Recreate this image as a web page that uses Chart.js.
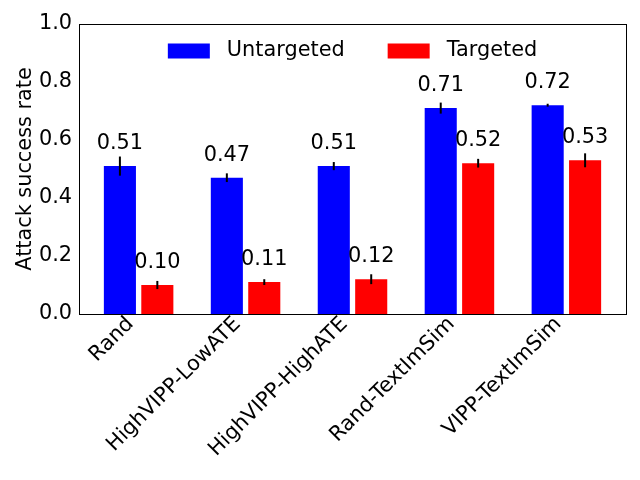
<!DOCTYPE html>
<html>
<head>
<meta charset="utf-8">
<script src="https://cdn.jsdelivr.net/npm/chart.js@4/dist/chart.umd.min.js"></script>
<style>
  html, body { margin: 0; padding: 0; background: #fff; }
</style>
</head>
<body>
<canvas id="asr_canvas" width="640" height="480"></canvas>
<script>
var methods = ['Rand', 'HighVIPP-LowATE', 'HighVIPP-HighATE', 'Rand-TextImSim', 'VIPP-TextImSim'];
var untargeted = [0.51, 0.47, 0.51, 0.71, 0.72];
var untargetedErr = [0.033, 0.015, 0.014, 0.019, 0.005];
var targeted = [0.10, 0.11, 0.12, 0.52, 0.53];
var targetedErr = [0.014, 0.010, 0.017, 0.015, 0.024];
var yTicks = [0.0, 0.2, 0.4, 0.6, 0.8, 1.0];

var BAR_W = 0.3;
var OFFSET = 0.175;
var FONT = 'DejaVu Sans';
var FSIZE = 20.83;

function points(vals, shift) {
    return vals.map(function (v, i) { return {x: i + shift, y: v}; });
}

// error bars + value labels above each bar
var errLabels = {
    id: 'errLabels',
    afterDatasetsDraw: function (chart) {
        var ctx = chart.ctx;
        var ys = chart.scales.y;
        var errs = [untargetedErr, targetedErr];
        ctx.save();
        chart.data.datasets.forEach(function (ds, di) {
            var meta = chart.getDatasetMeta(di);
            meta.data.forEach(function (bar, i) {
                var v = ds.data[i].y;
                var e = errs[di][i];
                ctx.strokeStyle = '#000';
                ctx.lineWidth = 2;
                ctx.beginPath();
                ctx.moveTo(bar.x, ys.getPixelForValue(v - e));
                ctx.lineTo(bar.x, ys.getPixelForValue(v + e));
                ctx.stroke();
                ctx.fillStyle = '#000';
                ctx.font = FSIZE + 'px "' + FONT + '"';
                ctx.textAlign = 'center';
                ctx.textBaseline = 'alphabetic';
                ctx.fillText(v.toFixed(2), bar.x, ys.getPixelForValue(v) - 17);
            });
        });
        ctx.restore();
    }
};

// full box round the axes
var frame = {
    id: 'frame',
    afterDraw: function (chart) {
        var a = chart.chartArea;
        var ctx = chart.ctx;
        ctx.save();
        ctx.strokeStyle = '#000';
        ctx.lineWidth = 1;
        ctx.strokeRect(Math.round(a.left) + 0.5, Math.round(a.top) + 0.5,
            Math.round(a.right - a.left), Math.round(a.bottom - a.top));
        ctx.restore();
    }
};

// legend sits inside the axes: take no room in the layout,
// then put its box over the plot area so it is centred there
var legendInside = {
    id: 'legendInside',
    afterInit: function (chart) {
        var legend = chart.legend;
        var fit = legend.fit;
        legend.fit = function () {
            fit.call(this);
            this.height = 0;
        };
    },
    afterLayout: function (chart) {
        var legend = chart.legend;
        var a = chart.chartArea;
        legend.left = a.left;
        legend.right = a.right;
        legend.width = a.right - a.left;
        legend.top = a.top;
        legend.height = 70;
        legend.bottom = a.top + 70;
    }
};

var chart = new Chart(document.getElementById('asr_canvas'), {
    type: 'bar',
    data: {
        datasets: [{
            label: ' Untargeted    ',
            data: points(untargeted, -OFFSET),
            backgroundColor: '#0000ff',
            borderWidth: 0
        }, {
            label: ' Targeted',
            data: points(targeted, OFFSET),
            backgroundColor: '#ff0000',
            borderWidth: 0
        }]
    },
    options: {
        responsive: false,
        animation: false,
        grouped: false,
        categoryPercentage: 1.0,
        barPercentage: BAR_W / (2 * OFFSET),
        layout: {
            padding: {left: 0, top: 24, right: 14, bottom: 0}
        },
        scales: {
            x: {
                type: 'linear',
                offset: false,
                min: -0.5575,
                max: methods.length - 1 + 0.5575,
                afterBuildTicks: function (scale) {
                    scale.ticks = methods.map(function (m, i) { return {value: i}; });
                },
                afterFit: function (scale) { scale.height = 166; },
                grid: {display: false, drawTicks: false},
                border: {display: true, color: '#000'},
                ticks: {
                    autoSkip: false,
                    minRotation: 45,
                    maxRotation: 45,
                    padding: -2,
                    labelOffset: -8,
                    color: '#000',
                    font: {family: FONT, size: FSIZE},
                    callback: function (v) { return methods[v]; }
                }
            },
            y: {
                min: 0,
                max: 1,
                afterBuildTicks: function (scale) {
                    scale.ticks = yTicks.map(function (t) { return {value: t}; });
                },
                afterFit: function (scale) { scale.width = 79; },
                grid: {display: false, drawTicks: false},
                border: {display: true, color: '#000'},
                title: {
                    display: true,
                    text: 'Attack success rate',
                    color: '#000',
                    font: {family: FONT, size: FSIZE},
                    padding: {top: 13, bottom: 0}
                },
                ticks: {
                    padding: 7,
                    color: '#000',
                    font: {family: FONT, size: FSIZE},
                    callback: function (v) { return v.toFixed(1); }
                }
            }
        },
        plugins: {
            legend: {
                position: 'top',
                align: 'center',
                labels: {
                    boxWidth: 42,
                    boxHeight: 15,
                    padding: 16.5,
                    color: '#000',
                    font: {family: FONT, size: FSIZE}
                }
            },
            tooltip: {enabled: false}
        }
    },
    plugins: [legendInside, errLabels, frame]
});
</script>
</body>
</html>
